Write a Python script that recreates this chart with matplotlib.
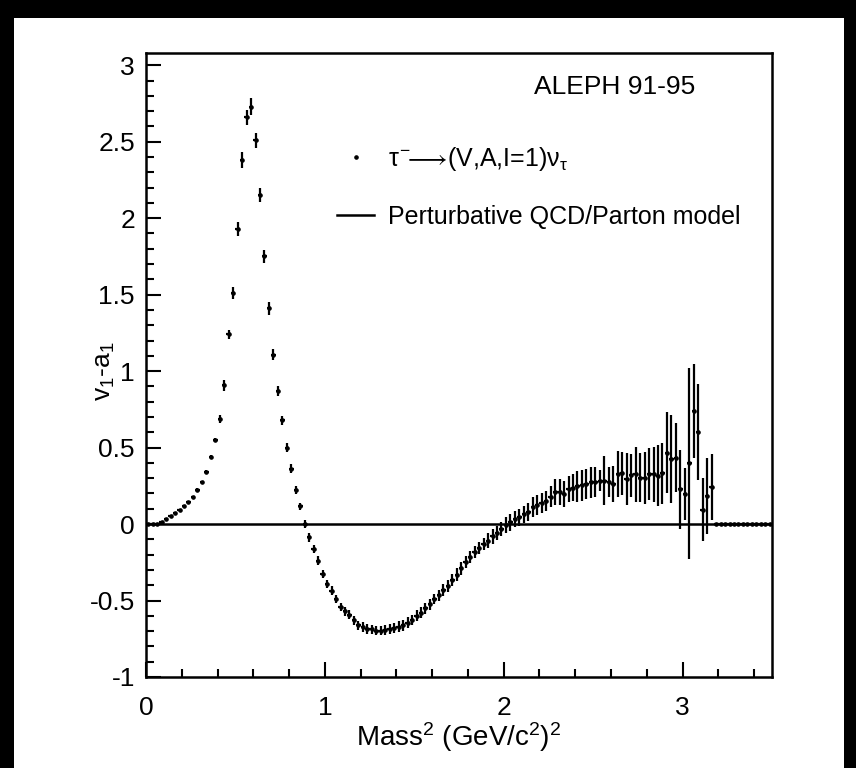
import numpy as np
import matplotlib
matplotlib.use("Agg")
import matplotlib.pyplot as plt
from matplotlib.lines import Line2D
from matplotlib.patches import Rectangle

plt.rcParams['font.family'] = ['Liberation Sans', 'DejaVu Sans']
plt.rcParams['axes.unicode_minus'] = False
plt.rcParams['mathtext.fontset'] = 'custom'
plt.rcParams['mathtext.rm'] = 'Liberation Sans'
plt.rcParams['mathtext.it'] = 'Liberation Sans'

# bin centres (GeV/c^2)^2, bin width 0.025
mass2 = np.round(0.0125 + 0.025 * np.arange(140), 4)
half_bin = 0.0125

v1_a1 = [
    0.0, 0.0, 0.003, 0.015, 0.033, 0.050, 0.072, 0.093, 0.115, 0.146,
    0.180, 0.224, 0.272, 0.341, 0.441, 0.550, 0.689, 0.907, 1.24, 1.51,
    1.93, 2.38, 2.66, 2.73, 2.51, 2.15, 1.75, 1.41, 1.107, 0.870,
    0.678, 0.500, 0.363, 0.224, 0.115, 0.0, -0.087, -0.163, -0.239, -0.326,
    -0.391, -0.435, -0.489, -0.543, -0.570, -0.593, -0.630, -0.663, -0.674, -0.685,
    -0.689, -0.696, -0.696, -0.691, -0.685, -0.680, -0.672, -0.662, -0.645, -0.628,
    -0.600, -0.580, -0.552, -0.525, -0.490, -0.465, -0.430, -0.405, -0.365, -0.330,
    -0.290, -0.250, -0.215, -0.185, -0.159, -0.130, -0.109, -0.080, -0.059, -0.033,
    -0.007, 0.011, 0.033, 0.043, 0.065, 0.080, 0.109, 0.124, 0.137, 0.152,
    0.180, 0.207, 0.207, 0.196, 0.228, 0.239, 0.246, 0.254, 0.261, 0.272,
    0.275, 0.283, 0.283, 0.276, 0.261, 0.326, 0.333, 0.293, 0.320, 0.326,
    0.304, 0.298, 0.326, 0.326, 0.315, 0.333, 0.467, 0.424, 0.435, 0.228,
    0.196, 0.398, 0.739, 0.602, 0.093, 0.185, 0.243, 0.0, 0.0, 0.0,
    0.0, 0.0, 0.0, 0.0, 0.0, 0.0, 0.0, 0.0, 0.0, 0.0,
]

v1_a1_err = [
    0.005, 0.005, 0.005, 0.005, 0.005, 0.005, 0.005, 0.005, 0.005, 0.005,
    0.006, 0.010, 0.010, 0.010, 0.010, 0.012, 0.027, 0.035, 0.030, 0.040,
    0.047, 0.054, 0.050, 0.054, 0.050, 0.045, 0.040, 0.040, 0.035, 0.035,
    0.030, 0.030, 0.028, 0.028, 0.025, 0.025, 0.028, 0.028, 0.028, 0.028,
    0.028, 0.028, 0.028, 0.028, 0.028, 0.028, 0.032, 0.032, 0.032, 0.032,
    0.032, 0.032, 0.032, 0.032, 0.032, 0.032, 0.035, 0.035, 0.035, 0.035,
    0.035, 0.035, 0.035, 0.035, 0.035, 0.035, 0.040, 0.040, 0.040, 0.040,
    0.040, 0.040, 0.040, 0.040, 0.040, 0.042, 0.048, 0.048, 0.048, 0.048,
    0.050, 0.055, 0.055, 0.055, 0.055, 0.058, 0.065, 0.065, 0.065, 0.065,
    0.070, 0.085, 0.085, 0.085, 0.085, 0.088, 0.100, 0.100, 0.100, 0.100,
    0.100, 0.070, 0.160, 0.100, 0.120, 0.150, 0.140, 0.170, 0.140, 0.180,
    0.160, 0.170, 0.170, 0.180, 0.200, 0.200, 0.263, 0.288, 0.228, 0.259,
    0.168, 0.625, 0.310, 0.312, 0.207, 0.250, 0.217, 0.0, 0.0, 0.0,
    0.0, 0.0, 0.0, 0.0, 0.0, 0.0, 0.0, 0.0, 0.0, 0.0,
]

qcd_x = [0.0, 3.5]
qcd_y = [0.0, 0.0]

x_ticks = [0, 1, 2, 3]
x_labels = ["0", "1", "2", "3"]
y_ticks = [-1, -0.5, 0, 0.5, 1, 1.5, 2, 2.5, 3]
y_labels = ["-1", "-0.5", "0", "0.5", "1", "1.5", "2", "2.5", "3"]

fig = plt.figure(figsize=(8.56, 7.68), dpi=100)
fig.patch.set_facecolor('white')
ax = fig.add_axes([146/856, 1-677/768, (772-146)/856, (677-53)/768])

ax.plot(qcd_x, qcd_y, color='black', lw=1.8, zorder=2)
ax.errorbar(mass2, v1_a1, yerr=v1_a1_err, xerr=half_bin, fmt='o', ms=2.3,
            color='black', ecolor='black', elinewidth=1.6, capsize=0, zorder=3)

ax.set_xlim(0, 3.5)
ax.set_ylim(-1.0, 3.08)
ax.set_xticks(x_ticks)
ax.set_xticklabels(x_labels)
ax.set_yticks(y_ticks)
ax.set_yticklabels(y_labels)
ax.set_xticks(np.round(np.arange(0, 3.5, 0.2), 2), minor=True)
ax.set_yticks(np.round(np.arange(-1, 3.05, 0.1), 2), minor=True)
ax.tick_params(which='both', direction='in', top=False, right=False, width=1.5)
ax.tick_params(which='major', length=11, labelsize=19, pad=8)
ax.tick_params(axis='x', which='major', pad=14)
ax.tick_params(which='minor', length=5.5)
for s in ax.spines.values():
    s.set_linewidth(1.8)

ax.set_xlabel(r"Mass$^{2}$ (GeV/c$^{2}$)$^{2}$", fontsize=20, labelpad=0)
ax.set_ylabel(r"v$_{1}$-a$_{1}$", fontsize=19)
ax.yaxis.set_label_coords(-0.046, 0.49)

ax.text(2.62, 2.86, "ALEPH 91-95", fontsize=19, ha='center', va='center')

handles = [Line2D([], [], ls='none', marker='o', ms=2.3, color='black'),
           Line2D([], [], ls='-', lw=1.8, color='black')]
labels = [r"$\tau^{-}\!\!\longrightarrow\!$(V,A,I=1)$\nu_{\tau}$",
          "Perturbative QCD/Parton model"]
ax.legend(handles, labels, loc='upper left', bbox_to_anchor=(0.305, 0.853),
          frameon=False, fontsize=18, handlelength=1.5, handletextpad=0.55,
          labelspacing=1.3, borderpad=0, borderaxespad=0)

# black frame around the picture
for (x0, y0, w, h) in [(0, 0, 14/856, 1), (0, 1-18/768, 1, 18/768),
                       (1-12/856, 0, 12/856, 1)]:
    fig.patches.append(Rectangle((x0, y0), w, h, transform=fig.transFigure,
                                 facecolor='black', edgecolor='none', zorder=10))

fig.savefig("out.png", dpi=100)
